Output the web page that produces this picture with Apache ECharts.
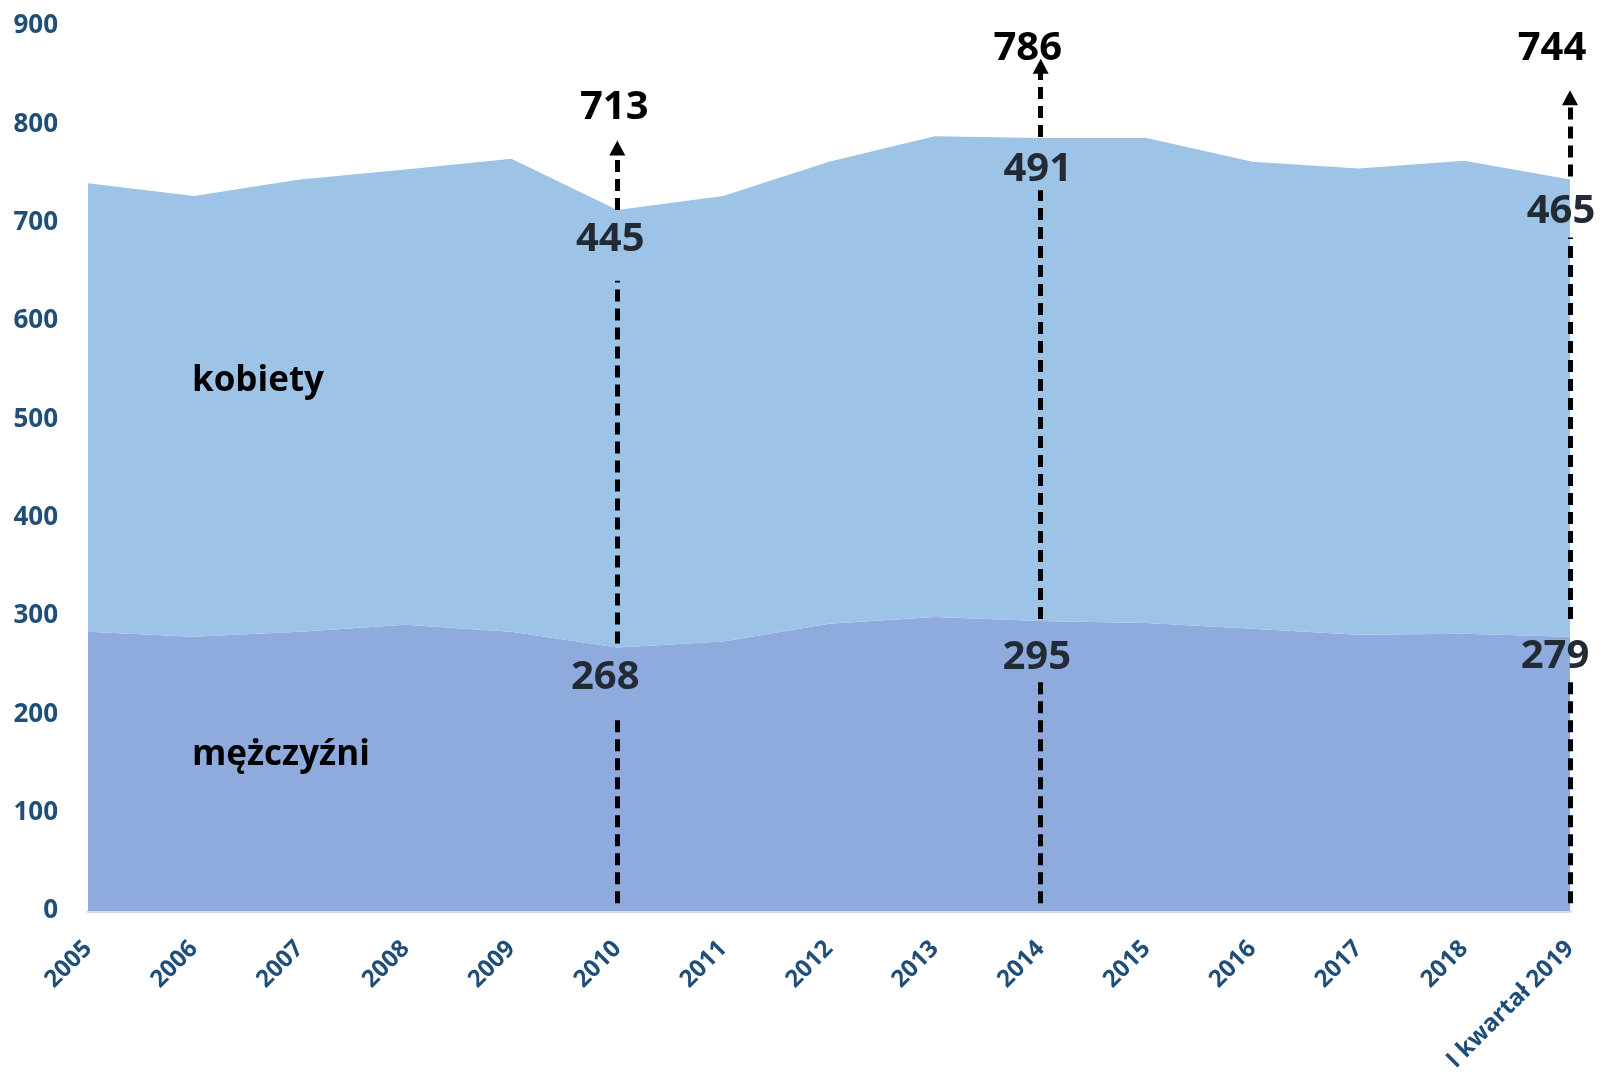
<!DOCTYPE html>
<html>
<head>
<meta charset="utf-8">
<script src="https://cdn.jsdelivr.net/npm/echarts@6/dist/echarts.min.js"></script>
<style>
  html, body { margin: 0; padding: 0; background: #fff; }
  #chart { width: 1603px; height: 1081px; }
</style>
</head>
<body>
<div id="chart"></div>
<script>
// lata
var years = ['2005', '2006', '2007', '2008', '2009', '2010', '2011', '2012', '2013', '2014',
  '2015', '2016', '2017', '2018', 'I kwartał 2019']
// mężczyźni / kobiety (tys.)
var men = [284, 279, 284, 291, 284, 268, 274, 292, 299, 295, 293, 287, 281, 282, 279]
var women = [456, 448, 460, 463, 481, 445, 453, 470, 489, 491, 493, 475, 474, 481, 465]
var yTicks = [0, 100, 200, 300, 400, 500, 600, 700, 800, 900]

// zaznaczone lata: [kategoria, razem, kobiety, mężczyźni]
var marked = [
  ['2010', 713, 445, 268],
  ['2014', 786, 491, 295],
  ['I kwartał 2019', 744, 465, 279]
]
// odcinki strzałek (wartości na osi Y), przerwy pod etykietami
var segs = {
  '2010': [[8, 197], [272, 641], [713, 776]],
  '2014': [[8, 233], [297, 733], [787, 859]],
  'I kwartał 2019': [[8, 233], [297, 685], [747, 827]]
}
// położenie etykiet [y razem, y kobiety, y mężczyźni], przesunięcie w px
var labelY = [[817, 683, 237], [877, 754, 258], [877, 711, 259]]
var labelDx = [[-3, -7, -12], [-13, -3, -4], [-18, -9, -15]]

var dash = { type: [12, 7], width: 5, color: '#000' }
var lines = []
marked.forEach(function (m) {
  segs[m[0]].forEach(function (s, i) {
    var last = i === segs[m[0]].length - 1
    lines.push([
      { coord: [m[0], s[0]], symbol: 'none' },
      { coord: [m[0], s[1]], symbol: last ? 'triangle' : 'none', symbolSize: [16, 15] }
    ])
  })
})

var points = []
marked.forEach(function (m, i) {
  [1, 2, 3].forEach(function (k) {
    points.push({
      coord: [m[0], labelY[i][k - 1]],
      label: {
        show: true,
        formatter: String(m[k]),
        offset: [labelDx[i][k - 1], 0],
        color: k === 1 ? '#000' : '#222A35',
        fontSize: 40,
        fontWeight: 'bold',
        fontFamily: 'Open Sans'
      }
    })
  })
})

var myChart = echarts.init(document.getElementById('chart'))
var option = {
  animation: false,
  textStyle: { fontFamily: 'Open Sans' },
  grid: { left: 88, right: 33, top: 26, bottom: 170, outerBoundsMode: 'none', containLabel: false },
  xAxis: {
    type: 'category',
    data: years,
    boundaryGap: false,
    axisLine: { lineStyle: { color: '#D9D9D9', width: 3 } },
    axisTick: { show: false },
    axisLabel: {
      rotate: 45,
      margin: 34,
      color: '#1F4E79',
      fontSize: 24,
      fontWeight: 'bold',
      interval: 0
    }
  },
  yAxis: {
    type: 'value',
    min: yTicks[0],
    max: yTicks[yTicks.length - 1],
    interval: 100,
    splitLine: { show: false },
    axisLine: { show: false },
    axisTick: { show: false },
    axisLabel: {
      margin: 30,
      color: '#1F4E79',
      fontSize: 26,
      fontWeight: 'bold'
    }
  },
  series: [
    {
      name: 'mężczyźni',
      type: 'line',
      stack: 'all',
      data: men,
      showSymbol: false,
      lineStyle: { width: 0 },
      areaStyle: { color: '#8FAADC', opacity: 1 }
    },
    {
      name: 'kobiety',
      type: 'line',
      stack: 'all',
      data: women,
      showSymbol: false,
      lineStyle: { width: 0 },
      areaStyle: { color: '#9DC3E6', opacity: 1 }
    },
    {
      name: 'adnotacje',
      type: 'line',
      data: [],
      z: 10,
      markLine: {
        silent: true,
        symbol: ['none', 'none'],
        label: { show: false },
        lineStyle: dash,
        data: lines
      },
      markPoint: {
        silent: true,
        symbol: 'circle',
        symbolSize: 1,
        itemStyle: { color: 'rgba(0,0,0,0)' },
        data: points
      }
    }
  ],
  graphic: [
    {
      type: 'text', x: 192, y: 381, z: 20,
      style: { text: 'kobiety', fill: '#000', fontSize: 35, fontWeight: 'bold', fontFamily: 'Open Sans', verticalAlign: 'middle' }
    },
    {
      type: 'text', x: 192, y: 755, z: 20,
      style: { text: 'mężczyźni', fill: '#000', fontSize: 35, fontWeight: 'bold', fontFamily: 'Open Sans', verticalAlign: 'middle' }
    }
  ]
}
option && myChart.setOption(option)
window.addEventListener('resize', function () {
  myChart.resize()
})
</script>
</body>
</html>
